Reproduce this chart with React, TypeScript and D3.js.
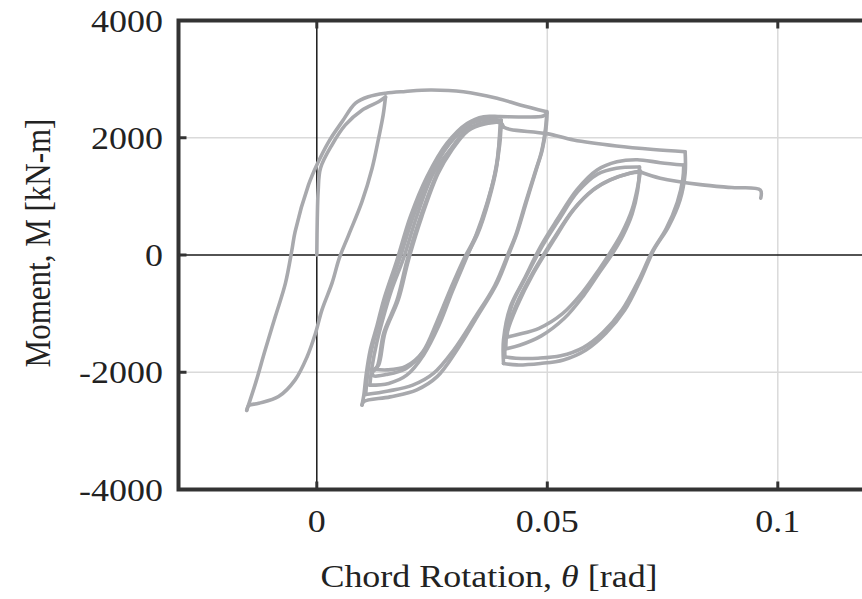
import React, { useEffect, useRef } from 'react';
import * as d3 from 'd3';

type Pt = [number, number]; // [chord rotation (rad), moment (kN-m)]

// hysteresis branches, in loading order
const initialLoading: Pt[] = [
  [0, 0], [0.0001, 600], [0.0003, 1100], [0.0008, 1480], [0.0033, 1880], [0.0062, 2220],
  [0.0098, 2470], [0.0134, 2615], [0.0149, 2695],
];
const unload1: Pt[] = [
  [0.0149, 2695], [0.0144, 2390], [0.0134, 1990], [0.012, 1480], [0.0098, 910], [0.0069, 340],
  [0.0049, -50], [0.0033, -480], [0.0011, -940], [-0.0003, -1340], [-0.0021, -1735],
  [-0.0047, -2130], [-0.0083, -2415], [-0.0126, -2530], [-0.0148, -2570], [-0.0152, -2650],
];
const reload1: Pt[] = [
  [-0.0152, -2650], [-0.0133, -2190], [-0.0112, -1620], [-0.009, -1050], [-0.0068, -480],
  [-0.0054, 85], [-0.0047, 400], [-0.0018, 1195], [0, 1535], [0.0026, 1935], [0.0055, 2275],
  [0.0084, 2590], [0.0112, 2700], [0.0149, 2760], [0.0192, 2790], [0.0246, 2815],
  [0.0318, 2786], [0.0391, 2673], [0.0441, 2560], [0.0499, 2445],
];
const unload2: Pt[] = [
  [0.0499, 2445], [0.0498, 2220], [0.0489, 1790], [0.0478, 1505], [0.0456, 940], [0.0434, 370],
  [0.042, 85], [0.0391, -480], [0.0348, -1050], [0.0304, -1620], [0.0261, -2075],
  [0.0217, -2300], [0.0159, -2420], [0.0102, -2500], [0.0098, -2560],
];
const reload2: Pt[] = [
  [0.0098, -2560], [0.0102, -2390], [0.0107, -2045], [0.0116, -1620], [0.0131, -1195],
  [0.0145, -770], [0.0174, -85], [0.0203, 655], [0.0239, 1335], [0.0282, 1905],
  [0.0326, 2245], [0.0362, 2360], [0.0398, 2360], [0.0441, 2355], [0.0491, 2370], [0.0499, 2420],
];
const unload3: Pt[] = [
  [0.0499, 2420], [0.0496, 2150], [0.0487, 1750], [0.0475, 1450], [0.0453, 900], [0.0431, 330],
  [0.0416, 40], [0.0386, -520], [0.0342, -1080], [0.0297, -1620], [0.0253, -2020],
  [0.0208, -2220], [0.0155, -2320], [0.0106, -2380],
];
const reload3: Pt[] = [
  [0.0106, -2380], [0.011, -2050], [0.0118, -1650], [0.0133, -1200], [0.0149, -760],
  [0.018, -60], [0.0209, 650], [0.0244, 1330], [0.0286, 1880], [0.033, 2220], [0.0364, 2310],
  [0.04, 2300],
];
const unload4: Pt[] = [
  [0.04, 2300], [0.0397, 1900], [0.0387, 1400], [0.0369, 880], [0.0346, 350], [0.0324, -60],
  [0.0294, -620], [0.0265, -1200], [0.0232, -1700], [0.0195, -2050], [0.0156, -2190],
  [0.0115, -2220],
];
const reload4: Pt[] = [
  [0.0115, -2220], [0.012, -1900], [0.013, -1500], [0.0143, -1100], [0.0162, -600],
  [0.0188, -60], [0.0216, 640], [0.0252, 1380], [0.029, 1800], [0.0328, 2150],
  [0.0363, 2260], [0.04, 2280],
];
const unload5: Pt[] = [
  [0.04, 2280], [0.0389, 1505], [0.0372, 940], [0.0348, 370], [0.0318, -85], [0.0289, -600],
  [0.026, -1150], [0.023, -1650], [0.0193, -1940], [0.015, -2040], [0.0123, -2060],
  [0.012, -2000],
];
const reload5: Pt[] = [
  [0.012, -2000], [0.0131, -1905], [0.0145, -1335], [0.0174, -770], [0.0196, -85],
  [0.0225, 655], [0.0261, 1395], [0.029, 1790], [0.0326, 2135], [0.0362, 2245], [0.0398, 2270],
];
const unload6: Pt[] = [
  [0.0398, 2270], [0.039, 1500], [0.0373, 930], [0.0349, 360], [0.032, -90], [0.0291, -620],
  [0.0262, -1170], [0.0232, -1640], [0.0193, -1900], [0.0153, -1960], [0.0125, -1950],
];
const reload6: Pt[] = [
  [0.0125, -1950], [0.0134, -1880], [0.0148, -1320], [0.0177, -760], [0.0199, -80],
  [0.0228, 660], [0.0263, 1390], [0.0292, 1780], [0.0328, 2120], [0.0364, 2235], [0.04, 2250],
  [0.0405, 2180],
];
const push8: Pt[] = [
  [0.0405, 2180], [0.042, 2140], [0.0499, 2070], [0.0557, 1962], [0.065, 1860], [0.073, 1800],
  [0.0799, 1762],
];
const unload7: Pt[] = [
  [0.0799, 1762], [0.0799, 1395], [0.0788, 940], [0.0763, 485], [0.0731, 85], [0.0702, -425],
  [0.0668, -940], [0.0627, -1335], [0.0584, -1620], [0.0535, -1790], [0.0485, -1850],
  [0.0434, -1875], [0.0405, -1850],
];
const reload7: Pt[] = [
  [0.0405, -1850], [0.0405, -1450], [0.042, -880], [0.0449, -425], [0.0485, 140],
  [0.0521, 600], [0.0564, 1110], [0.0608, 1450], [0.0651, 1590], [0.0695, 1625],
  [0.0745, 1575], [0.0796, 1535],
];
const unload8: Pt[] = [
  [0.0796, 1535], [0.0794, 1300], [0.0782, 900], [0.0758, 450], [0.0727, 50], [0.0697, -450],
  [0.0662, -940], [0.0621, -1320], [0.0578, -1580], [0.0529, -1720], [0.048, -1760],
  [0.0432, -1760], [0.0408, -1740],
];
const reload8: Pt[] = [
  [0.0408, -1740], [0.0409, -1400], [0.0423, -860], [0.0452, -400], [0.0489, 150],
  [0.0525, 600], [0.0566, 1080], [0.0609, 1380], [0.065, 1480], [0.07, 1500],
];
const unload9: Pt[] = [
  [0.07, 1500], [0.0696, 1100], [0.0684, 700], [0.0664, 330], [0.0641, 20], [0.0613, -300],
  [0.0578, -700], [0.0537, -1080], [0.0487, -1380], [0.044, -1540], [0.041, -1600],
];
const reload9: Pt[] = [
  [0.041, -1600], [0.0413, -1300], [0.0432, -860], [0.0468, -310], [0.0512, 255],
  [0.0556, 770], [0.0599, 1110], [0.0636, 1280], [0.068, 1400], [0.0702, 1430],
];
const unload10: Pt[] = [
  [0.0702, 1430], [0.0697, 1200], [0.0684, 780], [0.0662, 380], [0.0638, 60], [0.0612, -250],
  [0.0575, -650], [0.0533, -1000], [0.0482, -1250], [0.0434, -1360], [0.0413, -1400],
];
const reload10: Pt[] = [
  [0.0413, -1400], [0.0414, -1300], [0.0434, -880], [0.047, -310], [0.0514, 255],
  [0.0557, 770], [0.06, 1110], [0.0637, 1280], [0.068, 1395], [0.0702, 1415],
];
const finalPush: Pt[] = [
  [0.0702, 1415], [0.0745, 1310], [0.0832, 1200], [0.09, 1150], [0.0962, 1110], [0.0963, 970],
];

const branches: Pt[][] = [
  initialLoading, unload1, reload1, unload2, reload2, unload3, reload3, unload4, reload4,
  unload5, reload5, unload6, reload6, push8, unload7, reload7, unload8, reload8,
  unload9, reload9, unload10, reload10, finalPush,
];

const xTicks = [0, 0.05, 0.1];
const xTickLabels = ['0', '0.05', '0.1'];
const yTicks = [-4000, -2000, 0, 2000, 4000];
const yTickLabels = ['-4000', '-2000', '0', '2000', '4000'];

const FONT = "'Liberation Serif', 'Times New Roman', serif";
const STRETCH = 1.16;

const App: React.FC = () => {
  const svgRef = useRef<SVGSVGElement>(null);

  useEffect(() => {
    if (!svgRef.current) return;
    const svg = d3.select(svgRef.current);
    svg.selectAll('*').remove();

    const x = d3.scaleLinear().domain([-0.03, 0.12]).range([178.5, 870]);
    const y = d3.scaleLinear().domain([-4000, 4000]).range([489.5, 20.5]);
    const [xl, xr] = x.range();
    const [yb, yt] = y.range();

    // grid lines
    const grid = svg.append('g').attr('stroke', '#dadada').attr('stroke-width', 1.5);
    grid.selectAll('.gx')
      .data(xTicks.filter((d) => d !== 0))
      .join('line')
      .attr('x1', (d) => x(d)).attr('x2', (d) => x(d))
      .attr('y1', yt).attr('y2', yb);
    grid.selectAll('.gy')
      .data(yTicks.filter((d) => d !== 0 && Math.abs(d) < 4000))
      .join('line')
      .attr('x1', xl).attr('x2', xr)
      .attr('y1', (d) => y(d)).attr('y2', (d) => y(d));

    // zero lines
    svg.append('line')
      .attr('x1', x(0)).attr('x2', x(0)).attr('y1', yt).attr('y2', yb)
      .attr('stroke', '#1a1a1a').attr('stroke-width', 1.5);
    svg.append('line')
      .attr('x1', xl).attr('x2', xr).attr('y1', y(0)).attr('y2', y(0))
      .attr('stroke', '#1a1a1a').attr('stroke-width', 1.5);

    // hysteresis curve
    const line = d3.line<Pt>()
      .x((d) => x(d[0]))
      .y((d) => y(d[1]))
      .curve(d3.curveCatmullRom.alpha(0.5));

    svg.append('g')
      .selectAll('path')
      .data(branches)
      .join('path')
      .attr('d', (d) => line(d))
      .attr('fill', 'none')
      .attr('stroke', '#a8a9ad')
      .attr('stroke-width', 3.6)
      .attr('stroke-linejoin', 'round')
      .attr('stroke-linecap', 'round');

    // frame
    svg.append('path')
      .attr('d', `M${xr},${yt}H${xl}V${yb}H${xr}`)
      .attr('fill', 'none')
      .attr('stroke', '#333')
      .attr('stroke-width', 4);

    // inward ticks
    const ticks = svg.append('g').attr('stroke', '#333').attr('stroke-width', 3);
    xTicks.forEach((t) => {
      ticks.append('line').attr('x1', x(t)).attr('x2', x(t)).attr('y1', yb).attr('y2', yb - 8);
      ticks.append('line').attr('x1', x(t)).attr('x2', x(t)).attr('y1', yt).attr('y2', yt + 8);
    });
    yTicks.forEach((t) => {
      ticks.append('line').attr('x1', xl).attr('x2', xl + 8).attr('y1', y(t)).attr('y2', y(t));
    });

    // tick labels
    svg.append('g')
      .selectAll('text')
      .data(yTicks)
      .join('text')
      .attr('transform', (d) => `translate(163,${y(d) + 11}) scale(${STRETCH},1)`)
      .attr('text-anchor', 'end')
      .attr('font-family', FONT)
      .attr('font-size', 31)
      .attr('fill', '#222')
      .text((d, i) => yTickLabels[i]);

    svg.append('g')
      .selectAll('text')
      .data(xTicks)
      .join('text')
      .attr('transform', (d) => `translate(${x(d)},532) scale(${STRETCH},1)`)
      .attr('text-anchor', 'middle')
      .attr('font-family', FONT)
      .attr('font-size', 31)
      .attr('fill', '#222')
      .text((d, i) => xTickLabels[i]);

    // axis titles
    const xt = svg.append('text')
      .attr('transform', `translate(489,587) scale(${STRETCH},1)`)
      .attr('text-anchor', 'middle')
      .attr('font-family', FONT)
      .attr('font-size', 31)
      .attr('fill', '#222');
    xt.append('tspan').text('Chord Rotation, ');
    xt.append('tspan').attr('font-style', 'italic').text('θ');
    xt.append('tspan').text(' [rad]');

    svg.append('text')
      .attr('transform', `translate(50,243) scale(${STRETCH},1) rotate(-90)`)
      .attr('text-anchor', 'middle')
      .attr('font-family', FONT)
      .attr('font-size', 31)
      .attr('fill', '#222')
      .text('Moment, M [kN-m]');
  }, []);

  return (
    <svg
      ref={svgRef}
      width={862}
      height={599}
      style={{ position: 'absolute', left: 0, top: 0, background: '#fff' }}
    />
  );
};

export default App;
